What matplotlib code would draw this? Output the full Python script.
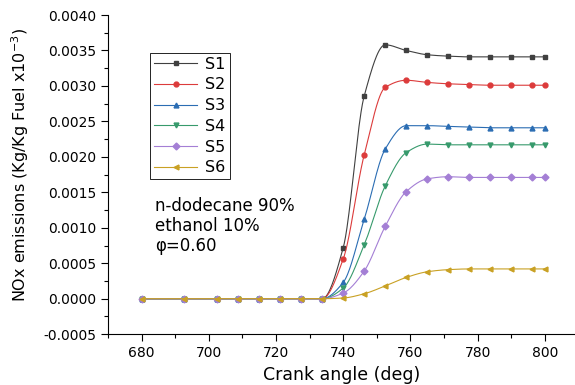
import numpy as np
import matplotlib.pyplot as plt
from matplotlib.ticker import MultipleLocator, FormatStrFormatter

# crank angle (deg) and NOx values
crank = [680, 692.5, 702.5, 708.75, 715, 721.25, 727.5, 733.75, 740, 746.25,
         752.5, 758.75, 765, 771.25, 777.5, 783.75, 790, 796.25, 800]

flat = [0.0] * 8
s1 = flat + [0.00072, 0.00286, 0.00358, 0.00350, 0.00344, 0.00342, 0.00341, 0.00341, 0.00341, 0.00341, 0.00341]
s2 = flat + [0.00056, 0.00203, 0.00298, 0.00308, 0.00305, 0.00303, 0.00302, 0.00301, 0.00301, 0.00301, 0.00301]
s3 = flat + [0.00023, 0.00112, 0.00211, 0.00244, 0.00244, 0.00243, 0.00242, 0.00241, 0.00241, 0.00241, 0.00241]
s4 = flat + [0.00015, 0.00076, 0.00159, 0.00206, 0.00218, 0.00217, 0.00217, 0.00217, 0.00217, 0.00217, 0.00217]
s5 = flat + [0.00008, 0.00039, 0.00102, 0.00151, 0.00169, 0.00172, 0.00171, 0.00171, 0.00171, 0.00171, 0.00171]
s6 = flat + [0.00001, 0.00007, 0.00018, 0.00030, 0.00038, 0.00041, 0.00042, 0.00042, 0.00042, 0.00042, 0.00042]

labels = ["S1", "S2", "S3", "S4", "S5", "S6"]
series = [s1, s2, s3, s4, s5, s6]
colors = ["#404040", "#dc3b3b", "#2b6db3", "#379a6c", "#a47fd5", "#c9a124"]
markers = ["s", "o", "^", "v", "D", "<"]


def pchip_line(x, y, n=600):
    # monotone cubic line through the points, only for drawing the smooth curve
    x = np.asarray(x, float)
    y = np.asarray(y, float)
    h = np.diff(x)
    delta = np.diff(y) / h
    d = np.zeros_like(y)
    for k in range(1, len(x) - 1):
        if delta[k - 1] * delta[k] > 0:
            w1 = 2 * h[k] + h[k - 1]
            w2 = h[k] + 2 * h[k - 1]
            d[k] = (w1 + w2) / (w1 / delta[k - 1] + w2 / delta[k])
    d[0] = delta[0]
    d[-1] = delta[-1]
    xs = np.linspace(x[0], x[-1], n)
    idx = np.clip(np.searchsorted(x, xs) - 1, 0, len(x) - 2)
    t = (xs - x[idx]) / h[idx]
    h00 = 2 * t**3 - 3 * t**2 + 1
    h10 = t**3 - 2 * t**2 + t
    h01 = -2 * t**3 + 3 * t**2
    h11 = t**3 - t**2
    ys = h00 * y[idx] + h10 * h[idx] * d[idx] + h01 * y[idx + 1] + h11 * h[idx] * d[idx + 1]
    return xs, ys


fig = plt.figure(figsize=(5.75, 3.85), dpi=100)
ax = fig.add_axes([0.188, 0.132, 0.812, 0.829])

for lab, ys, c, m in zip(labels, series, colors, markers):
    sx, sy = pchip_line(crank, ys)
    ax.plot(sx, sy, color=c, lw=0.8)
    ax.plot(crank, ys, linestyle="none", marker=m, color=c, markersize=3.5)
    # legend proxy
    ax.plot([], [], color=c, lw=0.8, marker=m, markersize=3.5, label=lab)

ax.set_xlim(670, 809)
ax.set_ylim(-0.0005, 0.0040)
ax.xaxis.set_major_locator(MultipleLocator(20))
ax.xaxis.set_minor_locator(MultipleLocator(10))
ax.yaxis.set_major_locator(MultipleLocator(0.0005))
ax.yaxis.set_minor_locator(MultipleLocator(0.00025))
ax.yaxis.set_major_formatter(FormatStrFormatter("%.4f"))
ax.tick_params(which="major", direction="out", length=5, width=0.8, labelsize=10)
ax.tick_params(which="minor", direction="out", length=3, width=0.8)

for side in ["top", "right"]:
    ax.spines[side].set_visible(False)
for side in ["left", "bottom"]:
    ax.spines[side].set_linewidth(0.8)

ax.set_xlabel("Crank angle (deg)", fontsize=12.5, labelpad=4)
ax.set_ylabel("NOx emissions (Kg/Kg Fuel x10$^{-3}$)", fontsize=11.5, labelpad=6)
ax.yaxis.set_label_coords(-0.165, 0.53)

leg = ax.legend(loc="upper left", bbox_to_anchor=(0.09, 0.882), fontsize=11.5,
                handlelength=2.7, labelspacing=0.36, handletextpad=0.5,
                borderpad=0.25, borderaxespad=0, fancybox=False, framealpha=1,
                edgecolor="black")
leg.get_frame().set_linewidth(0.6)

ax.text(0.10, 0.43, "n-dodecane 90%\nethanol 10%\nφ=0.60", transform=ax.transAxes,
        fontsize=12, va="top", ha="left", linespacing=1.15)

fig.savefig("out.png", dpi=100)
plt.close(fig)
